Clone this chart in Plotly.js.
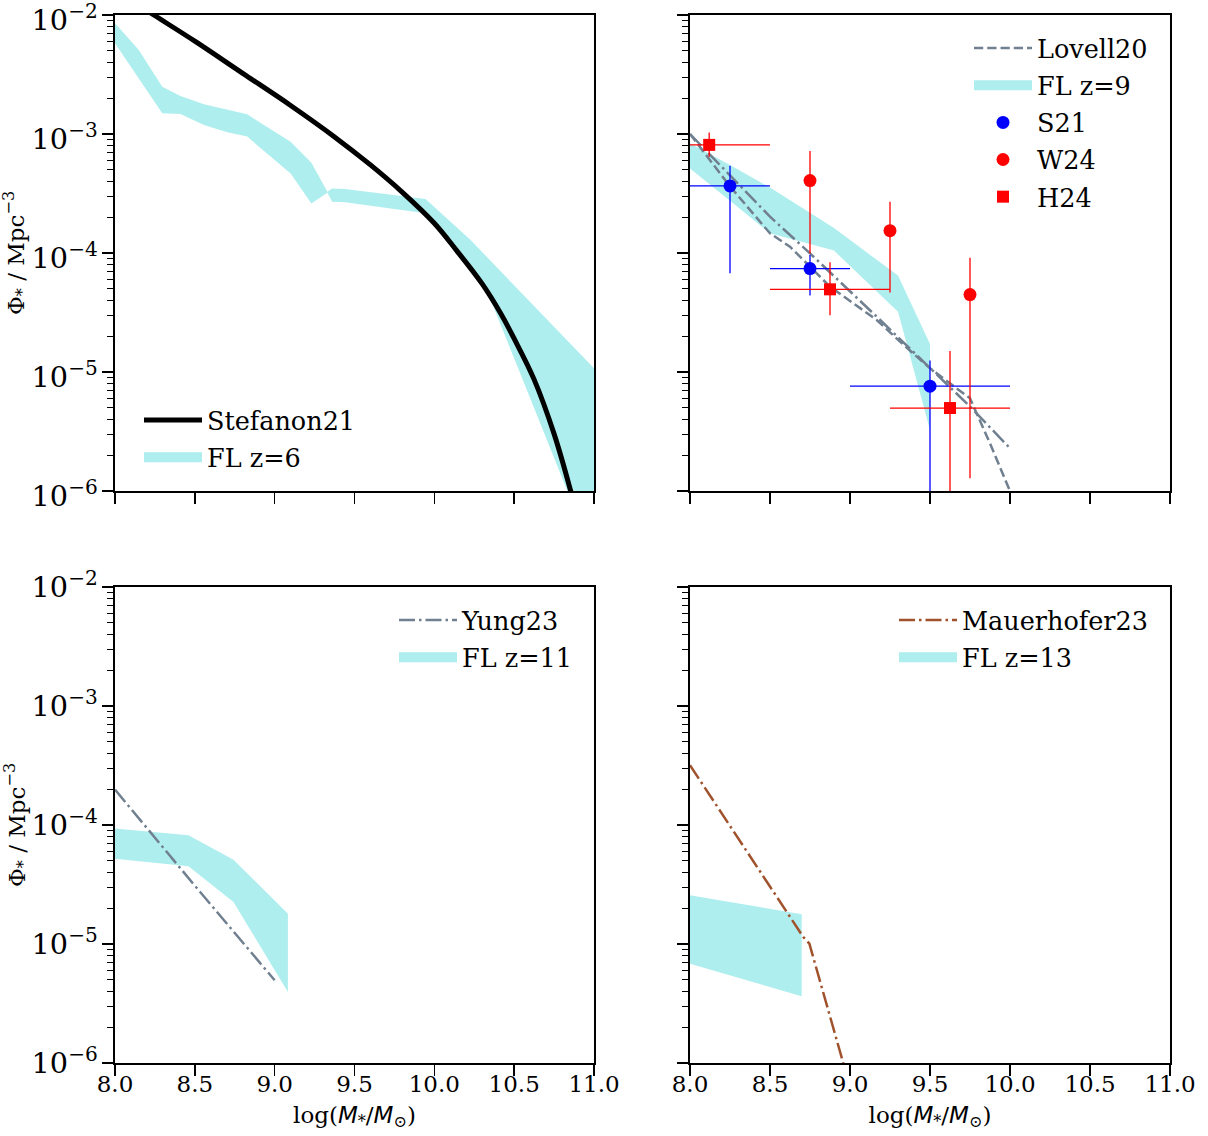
<!DOCTYPE html>
<html><head><meta charset="utf-8">
<script src="https://cdn.plot.ly/plotly-3.0.1.min.js"></script>
<style>body{margin:0;background:#fff}</style>
</head><body><div id="chart" style="width:1208px;height:1136px"></div>
<script>
// ---------------- data (log10 of Phi where named logphi) ----------------
// Panel 1 (z=6)
const stef21_x      = [8.0, 8.243, 8.5, 8.8, 9.1, 9.371, 9.6, 9.8, 10.0, 10.14, 10.3, 10.415, 10.5, 10.624, 10.75, 10.854, 10.95];
const stef21_logphi = [-1.79, -2.0, -2.22, -2.49, -2.76, -3.02, -3.26, -3.49, -3.75, -3.98, -4.26, -4.507, -4.72, -5.06, -5.52, -6.0, -6.5];
const fl6_x_up   = [8.0, 8.149, 8.296, 8.41, 8.557, 8.703, 8.828, 9.10, 9.23, 9.33, 9.36, 9.44, 9.945, 10.227, 11.0];
const fl6_log_up = [-2.07, -2.294, -2.602, -2.68, -2.751, -2.798, -2.835, -3.065, -3.241, -3.485, -3.457, -3.462, -3.546, -3.891, -4.969];
const fl6_x_lo   = [8.0, 8.149, 8.296, 8.41, 8.557, 8.703, 8.828, 9.10, 9.23, 9.33, 9.36, 9.44, 9.945, 10.227, 10.353, 10.833, 11.0];
const fl6_log_lo = [-2.238, -2.53, -2.826, -2.832, -2.924, -2.986, -3.022, -3.331, -3.583, -3.493, -3.569, -3.574, -3.667, -4.10, -4.395, -6.0, -6.6];

// Panel 2 (z=9)
const fl9_x      = [8.0, 8.25, 8.5, 8.9, 9.3, 9.5];
const fl9_log_up = [-3.078, -3.26, -3.45, -3.79, -4.19, -4.765];
const fl9_log_lo = [-3.289, -3.56, -3.835, -3.98, -4.493, -5.487];
const lovell20_x      = [8.0, 8.25, 8.5, 8.625, 8.875, 9.167, 9.3125, 9.5, 9.75, 9.875, 10.0];
const lovell20_logphi = [-3.0, -3.44, -3.835, -3.947, -4.283, -4.563, -4.745, -4.969, -5.221, -5.60, -6.0];
const dashdot9_x      = [8.0, 8.5, 8.75, 9.167, 9.75, 10.0];
const dashdot9_logphi = [-3.0, -3.695, -4.003, -4.535, -5.29, -5.641];

const s21_x    = [8.25, 8.75, 9.5];
const s21_x_lo = [8.0, 8.5, 9.0];
const s21_x_hi = [8.5, 9.0, 10.0];
const s21_phi    = [3.66e-4, 7.4e-5, 7.6e-6];
const s21_phi_lo = [6.75e-5, 4.4e-5, 1e-7];
const s21_phi_hi = [5.42e-4, 9.6e-5, 1.25e-5];

const w24_x      = [8.75, 9.25, 9.75];
const w24_phi    = [4.06e-4, 1.54e-4, 4.47e-5];
const w24_phi_lo = [9.9e-5, 4.65e-5, 1.28e-6];
const w24_phi_hi = [7.2e-4, 2.7e-4, 9.1e-5];

const h24_x    = [8.12, 8.875, 9.625];
const h24_x_lo = [7.75, 8.5, 9.25];
const h24_x_hi = [8.5, 9.25, 10.0];
const h24_phi    = [8.1e-4, 4.95e-5, 4.98e-6];
const h24_phi_lo = [6.45e-4, 3.0e-5, 1e-7];
const h24_phi_hi = [1.03e-3, 8.36e-5, 1.5e-5];

// Panel 3 (z=11)
const fl11_x      = [8.0, 8.46, 8.742, 9.083];
const fl11_log_up = [-4.03, -4.087, -4.291, -4.745];
const fl11_log_lo = [-4.283, -4.347, -4.647, -5.403];
const yung23_x      = [8.0, 8.5, 9.0];
const yung23_logphi = [-3.703, -4.51, -5.305];

// Panel 4 (z=13)
const fl13_x      = [8.0, 8.698];
const fl13_log_up = [-4.591, -4.750];
const fl13_log_lo = [-5.165, -5.44];
const mauer23_x      = [8.0, 8.708, 8.746, 8.958, 9.0];
const mauer23_logphi = [-3.498, -4.941, -4.997, -6.0, -6.2];

const xTickLabels = ['8.0','8.5','9.0','9.5','10.0','10.5','11.0'];
const yTitle = 'Φ<sub>*</sub> / Mpc<sup>−3</sup>';

// ---------------- helpers ----------------
const P = v => v.map(a => Math.pow(10, a));
const CYAN = '#afeeee', SLATE = '#708090', SIENNA = '#a0522d';
const SERIF = 'DejaVu Serif';
const DASH = '9.25px,4px', DASHDOT = '16px,4px,2.5px,4px';
let gid = 0;

function band(xu, lu, xl, ll, xa, ya) {
  return {x: xu.concat(xl.slice().reverse()), y: P(lu).concat(P(ll).reverse()),
    xaxis: xa, yaxis: ya, mode: 'lines', fill: 'toself', fillcolor: CYAN,
    line: {width: 0, color: CYAN}, showlegend: false, hoverinfo: 'skip'};
}
function bandKey(name, xa, ya, lg) {
  return {x: [null], y: [null], xaxis: xa, yaxis: ya, mode: 'lines', name: name,
    line: {width: 18, color: CYAN}, legend: lg, legendgroup: 'g' + (gid++)};
}
function line(x, ly, name, color, width, dash, xa, ya, lg, show) {
  return {x: x, y: P(ly), xaxis: xa, yaxis: ya, mode: 'lines', name: name,
    line: {color: color, width: width, dash: dash}, legend: lg, showlegend: show,
    legendgroup: 'g' + (gid++)};
}
function pts(x, y, ylo, yhi, xlo, xhi, name, color, symbol, size, xa, ya, lg) {
  const t = {x: x, y: y, xaxis: xa, yaxis: ya, mode: 'markers', name: name, legend: lg,
    legendgroup: 'g' + (gid++),
    marker: {color: color, symbol: symbol, size: size},
    error_y: {type: 'data', symmetric: false, array: y.map((v,i)=>yhi[i]-v),
      arrayminus: y.map((v,i)=>v-ylo[i]), color: color, thickness: 1.3, width: 0}};
  if (xlo) t.error_x = {type: 'data', symmetric: false, array: x.map((v,i)=>xhi[i]-v),
      arrayminus: x.map((v,i)=>v-xlo[i]), color: color, thickness: 1.3, width: 0};
  return t;
}

const traces = [
  band(fl6_x_up, fl6_log_up, fl6_x_lo, fl6_log_lo, 'x', 'y'),
  line(stef21_x, stef21_logphi, 'Stefanon21', '#000', 5, 'solid', 'x', 'y', 'legend', true),
  bandKey('FL z=6', 'x', 'y', 'legend'),

  band(fl9_x, fl9_log_up, fl9_x, fl9_log_lo, 'x2', 'y2'),
  line(dashdot9_x, dashdot9_logphi, 'dashdot', SLATE, 2.5, DASHDOT, 'x2', 'y2', 'legend2', false),
  line(lovell20_x, lovell20_logphi, 'Lovell20', SLATE, 2.5, DASH, 'x2', 'y2', 'legend2', true),
  bandKey('FL z=9', 'x2', 'y2', 'legend2'),
  pts(s21_x, s21_phi, s21_phi_lo, s21_phi_hi, s21_x_lo, s21_x_hi, 'S21', '#0000ff', 'circle', 13, 'x2', 'y2', 'legend2'),
  pts(w24_x, w24_phi, w24_phi_lo, w24_phi_hi, null, null, 'W24', '#ff0000', 'circle', 13, 'x2', 'y2', 'legend2'),
  pts(h24_x, h24_phi, h24_phi_lo, h24_phi_hi, h24_x_lo, h24_x_hi, 'H24', '#ff0000', 'square', 12, 'x2', 'y2', 'legend2'),

  band(fl11_x, fl11_log_up, fl11_x, fl11_log_lo, 'x3', 'y3'),
  line(yung23_x, yung23_logphi, 'Yung23', SLATE, 2.5, DASHDOT, 'x3', 'y3', 'legend3', true),
  bandKey('FL z=11', 'x3', 'y3', 'legend3'),

  band(fl13_x, fl13_log_up, fl13_x, fl13_log_lo, 'x4', 'y4'),
  line(mauer23_x, mauer23_logphi, 'Mauerhofer23', SIENNA, 2.5, DASHDOT, 'x4', 'y4', 'legend4', true),
  bandKey('FL z=13', 'x4', 'y4', 'legend4'),
];
traces[1].line.shape = 'spline';

const W = 1208, H = 1136, ML = 115, MR = 38, MT = 15, MB = 73;
const PW = W - ML - MR, PH = H - MT - MB;
const dx = (a, b) => [(a - ML) / PW, (b - ML) / PW];
const dy = (top, bot) => [(H - MB - bot) / PH, (H - MB - top) / PH];

const tickfont = {family: SERIF, size: 23, color: '#000'};
function xax(dom, anchor, labels) {
  const a = {domain: dom, anchor: anchor, range: [8, 11], tickmode: 'array',
    tickvals: xTickLabels.map(Number), ticktext: xTickLabels, showticklabels: labels,
    ticks: 'outside', ticklen: 11, tickwidth: 1.6, tickcolor: '#000', ticklabelstandoff: -11,
    ticklabeloverflow: 'allow',
    showline: true, linecolor: '#000', linewidth: 1.6, mirror: true,
    showgrid: false, zeroline: false, tickfont: tickfont, fixedrange: true};
  if (labels) a.title = {text: 'log(<span style="font-family:DejaVu Sans"><i>M</i></span><sub>*</sub>/<span style="font-family:DejaVu Sans"><i>M</i></span><sub>⊙</sub>)',
    font: {family: SERIF, size: 23, color: '#000'}, standoff: 10};
  return a;
}
function yax(dom, anchor, labels, shift) {
  return {domain: dom, anchor: anchor, type: 'log', range: [-6, -2], dtick: 1,
    exponentformat: 'power', showexponent: 'all', showticklabels: labels,
    ticklabeloverflow: 'allow', ticklabelshift: shift,
    ticks: 'outside', ticklen: 11, tickwidth: 1.6, tickcolor: '#000',
    minor: {ticks: 'outside', ticklen: 6, tickwidth: 1.2, tickcolor: '#000', dtick: 'D1', showgrid: false},
    showline: true, linecolor: '#000', linewidth: 1.6, mirror: true,
    showgrid: false, zeroline: false, tickfont: tickfont, fixedrange: true};
}
function leg(px, py) {
  return {x: (px - ML) / PW, y: (H - MB - py) / PH, xanchor: 'left', yanchor: 'top',
    font: {family: SERIF, size: 25.5, color: '#000'}, bgcolor: 'rgba(0,0,0,0)', borderwidth: 0,
    itemwidth: 58, traceorder: 'grouped', tracegroupgap: 1};
}
function ytitle(pyCenter) {
  return {text: yTitle, xref: 'paper', yref: 'paper', x: (16 - ML) / PW, y: (H - MB - pyCenter) / PH,
    xanchor: 'center', yanchor: 'middle', textangle: -90, showarrow: false,
    font: {family: SERIF, size: 23, color: '#000'}};
}

const layout = {
  width: W, height: H, margin: {l: ML, r: MR, t: MT, b: MB},
  paper_bgcolor: '#fff', plot_bgcolor: '#fff', showlegend: true,
  xaxis:  xax(dx(115, 594), 'y', false),
  yaxis:  yax(dy(15, 491), 'x', true, 5),
  xaxis2: xax(dx(690, 1170), 'y2', false),
  yaxis2: yax(dy(15, 491), 'x2', false, 0),
  xaxis3: xax(dx(115, 594), 'y3', true),
  yaxis3: yax(dy(587, 1063), 'x3', true, 0),
  xaxis4: xax(dx(690, 1170), 'y4', true),
  yaxis4: yax(dy(587, 1063), 'x4', false, 0),
  legend:  leg(139, 397),
  legend2: leg(969, 25),
  legend3: leg(394, 597),
  legend4: leg(894, 597),
  annotations: [ytitle(253), ytitle(825)],
};

Plotly.newPlot('chart', traces, layout, {displayModeBar: false, staticPlot: true});
</script></body></html>
